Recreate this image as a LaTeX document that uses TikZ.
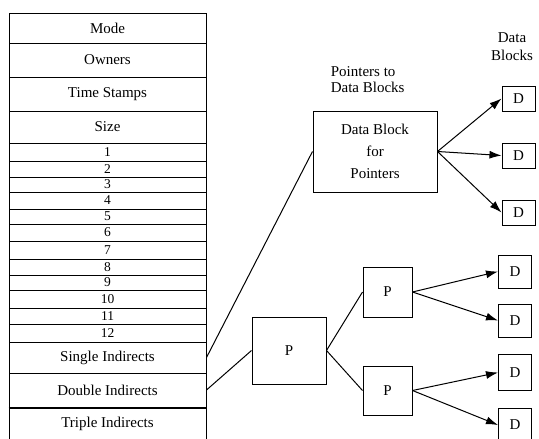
\documentclass[tikz,border=0pt]{standalone}
\usepackage{fontspec}
\setmainfont{Liberation Serif}
\usetikzlibrary{arrows.meta}
\begin{document}
\begin{tikzpicture}[x=1pt, y=-1pt, line width=1pt, font=\fontsize{15}{16}\selectfont,
  cell/.style={rectangle,draw,minimum width=197pt,inner sep=0pt},
  num/.style={cell,font=\fontsize{13.5}{13.5}\selectfont},
  pbox/.style={rectangle,draw,inner sep=0pt},
  dbox/.style={rectangle,draw,inner sep=0pt,minimum width=33pt},
  ptr/.style={-{Latex[length=12pt,width=8pt]}}]
\useasboundingbox (0,0) rectangle (539,439);
\begin{scope}%inode table
\node[cell,minimum height=30pt] (mode) at (107.5,28) {Mode};
\node[cell,minimum height=34pt] (owners) at (107.5,60) {Owners};
\node[cell,minimum height=34pt] (time) at (107.5,94) {Time Stamps};
\node[cell,minimum height=32pt] (size) at (107.5,127) {Size};
\node[num,minimum height=18pt] (n1) at (107.5,152) {1};
\node[num,minimum height=16pt] (n2) at (107.5,169) {2};
\node[num,minimum height=15pt] (n3) at (107.5,184.5) {3};
\node[num,minimum height=17pt] (n4) at (107.5,200.5) {4};
\node[num,minimum height=15pt] (n5) at (107.5,216.5) {5};
\node[num,minimum height=17pt] (n6) at (107.5,232.5) {6};
\node[num,minimum height=18pt] (n7) at (107.5,250) {7};
\node[num,minimum height=16pt] (n8) at (107.5,267) {8};
\node[num,minimum height=15pt] (n9) at (107.5,282.5) {9};
\node[num,minimum height=18pt] (n10) at (107.5,299) {10};
\node[num,minimum height=16pt] (n11) at (107.5,316) {11};
\node[num,minimum height=18pt] (n12) at (107.5,333) {12};
\node[cell,minimum height=31pt] (single) at (107.5,357.5) {Single Indirects};
\node[cell,minimum height=34pt] (double) at (107.5,390) {Double Indirects};
\node[cell,minimum height=33pt] (triple) at (107.5,423.5) {Triple Indirects};
\draw[line width=2pt] (double.south west) -- (double.south east);
\end{scope}
\begin{scope}%pointer blocks
\node[pbox,minimum width=124pt,minimum height=81pt,align=center,
  font=\fontsize{15}{22}\selectfont] (dbp) at (375,151.5) {Data Block\\for\\Pointers};
\node[pbox,minimum width=74pt,minimum height=67pt] (p0) at (289,350.5) {P};
\node[pbox,minimum width=49pt,minimum height=50pt] (p1) at (387.5,292) {P};
\node[pbox,minimum width=49pt,minimum height=49pt] (p2) at (387.5,390.5) {P};
\end{scope}
\begin{scope}%data blocks
\node[dbox,minimum height=25pt] (d1) at (518.5,98.5) {D};
\node[dbox,minimum height=25pt] (d2) at (518.5,155.5) {D};
\node[dbox,minimum height=25pt] (d3) at (518.5,212.5) {D};
\node[dbox,minimum height=33pt] (d4) at (515,271.5) {D};
\node[dbox,minimum height=33pt] (d5) at (515,320.5) {D};
\node[dbox,minimum height=36pt] (d6) at (515,372.5) {D};
\node[dbox,minimum height=34pt] (d7) at (515,425) {D};
\end{scope}
\node[anchor=west,align=left] (lblptr) at (327,80) {Pointers to\\Data Blocks};
\node[align=center,font=\fontsize{15}{18}\selectfont] (lbldata) at (512,47) {Data\\Blocks};
\begin{scope}
\draw (single.east) edge (dbp.west);
\draw (double.east) edge (p0.west);
\draw (p0.east) edge (p1.west);
\draw (p0.east) edge (p2.west);
\draw (dbp.east) edge[ptr] (d1.west);
\draw (dbp.east) edge[ptr] (d2.west);
\draw (dbp.east) edge[ptr] (d3.west);
\draw (p1.east) edge[ptr] (d4.west);
\draw (p1.east) edge[ptr] (d5.west);
\draw (p2.east) edge[ptr] (d6.west);
\draw (p2.east) edge[ptr] (d7.west);
\end{scope}
\end{tikzpicture}
\end{document}
